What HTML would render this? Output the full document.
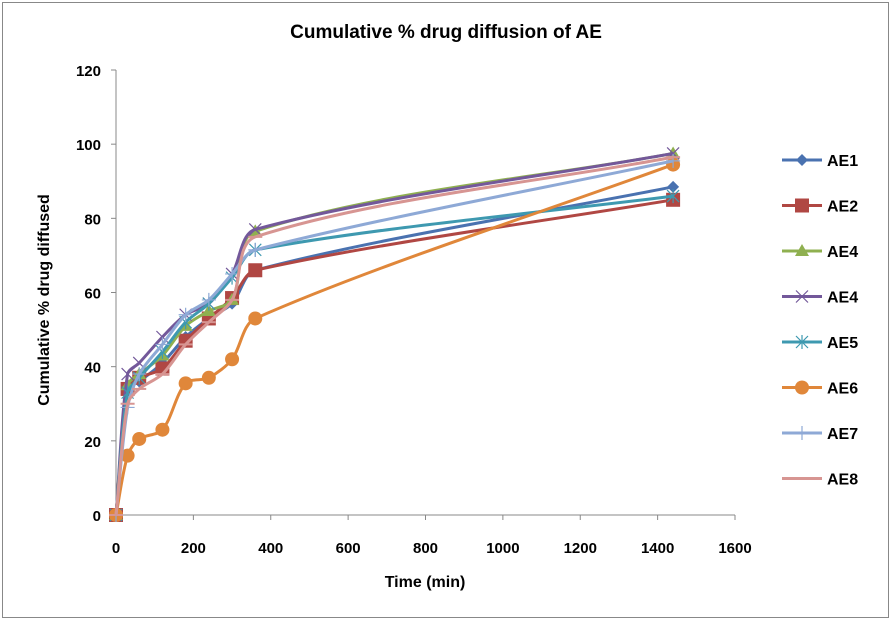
<!DOCTYPE html>
<html><head><meta charset="utf-8"><style>
body{margin:0;background:#fff;}
svg{display:block;font-family:"Liberation Sans",sans-serif;}
</style></head><body>
<svg id="chart" width="893" height="622">
<rect x="2.5" y="2.5" width="886" height="615" fill="#fff" stroke="#888"/>
<text x="446" y="38" text-anchor="middle" font-size="19" font-weight="bold">Cumulative % drug diffusion of AE</text>
<text transform="translate(49,300) rotate(-90)" text-anchor="middle" font-size="16" font-weight="bold">Cumulative % drug diffused</text>
<text x="425" y="587" text-anchor="middle" font-size="16" font-weight="bold">Time (min)</text>
<g id="axes"></g><g id="series"></g><g id="legend"></g>
</svg>
<script>
const times=[0,30,60,120,180,240,300,360,1440];
const names=["AE1","AE2","AE4","AE4","AE5","AE6","AE7","AE8"];
const colors=["#4a72b0","#b04743","#8fb050","#73589a","#3e99b0","#e0873a","#8ea9d6","#d79592"];
const markers=["diamond","square","triangle","x","star","circle","plus","dash"];
const ae1=[0,34,36,41,48,53,57,66,88.5];
const ae2=[0,34,37,39.5,47,53,58.5,66,85];
const ae4a=[0,35,38,43,51,55,58,76.5,97.5];
const ae4b=[0,38,41,48,54,57,65,77,97.5];
const ae5=[0,33,37,44,52,57,64,71.5,86];
const ae6=[0,16,20.5,23,35.5,37,42,53,94.5];
const ae7=[0,29,38,46,54,58,65,71.5,95.5];
const ae8=[0,30,34,38,46,52,58,75,96.5];
const series=[ae1,ae2,ae4a,ae4b,ae5,ae6,ae7,ae8];
const xTicks=[0,200,400,600,800,1000,1200,1400,1600];
const yTicks=[0,20,40,60,80,100,120];
const X=v=>116+v*(735-116)/1600, Y=v=>515-v*(515-70)/120;
const NS="http://www.w3.org/2000/svg";
function mk(t,a,p){const e=document.createElementNS(NS,t);for(const k in a)e.setAttribute(k,a[k]);p.appendChild(e);return e;}
const ax=document.getElementById('axes');
let l=mk('line',{x1:X(0),y1:Y(0),x2:X(1600),y2:Y(0),stroke:'#888'},ax);


l=mk('line',{x1:X(0),y1:Y(0),x2:X(0),y2:Y(120),stroke:'#888'},ax);


xTicks.forEach(v=>{mk('line',{x1:X(v),y1:515,x2:X(v),y2:520,stroke:'#888'},ax);
 const t=mk('text',{x:X(v),y:553,'text-anchor':'middle','font-size':15,'font-weight':'bold'},ax);t.textContent=v;
 
 });
yTicks.forEach(v=>{mk('line',{x1:111,y1:Y(v),x2:116,y2:Y(v),stroke:'#888'},ax);
 const t=mk('text',{x:101,y:Y(v)+6,'text-anchor':'end','font-size':15,'font-weight':'bold'},ax);t.textContent=v;
 
 });
function marker(kind,x,y,c,g){
 if(kind=="diamond")mk('path',{d:`M${x} ${y-6}L${x+6} ${y}L${x} ${y+6}L${x-6} ${y}Z`,fill:c},g);
 else if(kind=="square")mk('rect',{x:x-7,y:y-7,width:14,height:14,fill:c},g);
 else if(kind=="triangle")mk('path',{d:`M${x} ${y-7}L${x+7} ${y+5}L${x-7} ${y+5}Z`,fill:c},g);
 else if(kind=="circle")mk('circle',{cx:x,cy:y,r:7,fill:c},g);
 else if(kind=="x")mk('path',{d:`M${x-6} ${y-6}L${x+6} ${y+6}M${x+6} ${y-6}L${x-6} ${y+6}`,stroke:c,'stroke-width':1.2},g);
 else if(kind=="star")mk('path',{d:`M${x-6} ${y-6}L${x+6} ${y+6}M${x+6} ${y-6}L${x-6} ${y+6}M${x} ${y-7}L${x} ${y+7}`,stroke:c,'stroke-width':1.2},g);
 else if(kind=="plus")mk('path',{d:`M${x-7} ${y}L${x+7} ${y}M${x} ${y-7}L${x} ${y+7}`,stroke:c,'stroke-width':1.2},g);
 else if(kind=="dash")mk('path',{d:`M${x-7} ${y}L${x+7} ${y}`,stroke:c,'stroke-width':2},g);
}
// smoothing: tangent direction from neighbours, control length proportional to own segment length
function smooth(p){const n=p.length,T=0.3;
 const dir=i=>{const a=p[Math.max(i-1,0)],b=p[Math.min(i+1,n-1)];const dx=b[0]-a[0],dy=b[1]-a[1],L=Math.hypot(dx,dy)||1;return[dx/L,dy/L];};
 let d=`M${p[0][0]} ${p[0][1]}`;
 for(let i=0;i<n-1;i++){const a=p[i],b=p[i+1],L=Math.hypot(b[0]-a[0],b[1]-a[1]);
  const t1=dir(i),t2=dir(i+1);
  d+=`C${a[0]+t1[0]*L*T} ${a[1]+t1[1]*L*T} ${b[0]-t2[0]*L*T} ${b[1]-t2[1]*L*T} ${b[0]} ${b[1]}`;}
 return d;}
const sg=document.getElementById('series');
series.forEach((s,i)=>{const g=mk('g',{},sg);
 
 
 const pts=s.map((v,j)=>[X(times[j]),Y(v)]);
 mk('path',{d:smooth(pts),fill:'none',stroke:colors[i],'stroke-width':3},g);
 pts.forEach(p=>marker(markers[i],p[0],p[1],colors[i],g));});
const lg=document.getElementById('legend');
names.forEach((n,i)=>{const y=160+i*45.5;const g=mk('g',{},lg);
 
 
 mk('line',{x1:782,y1:y,x2:822,y2:y,stroke:colors[i],'stroke-width':3},g);
 marker(markers[i],802,y,colors[i],g);
 const t=mk('text',{x:827,y:y+6,'font-size':16,'font-weight':'bold'},g);t.textContent=n;});
</script>
</body></html>
